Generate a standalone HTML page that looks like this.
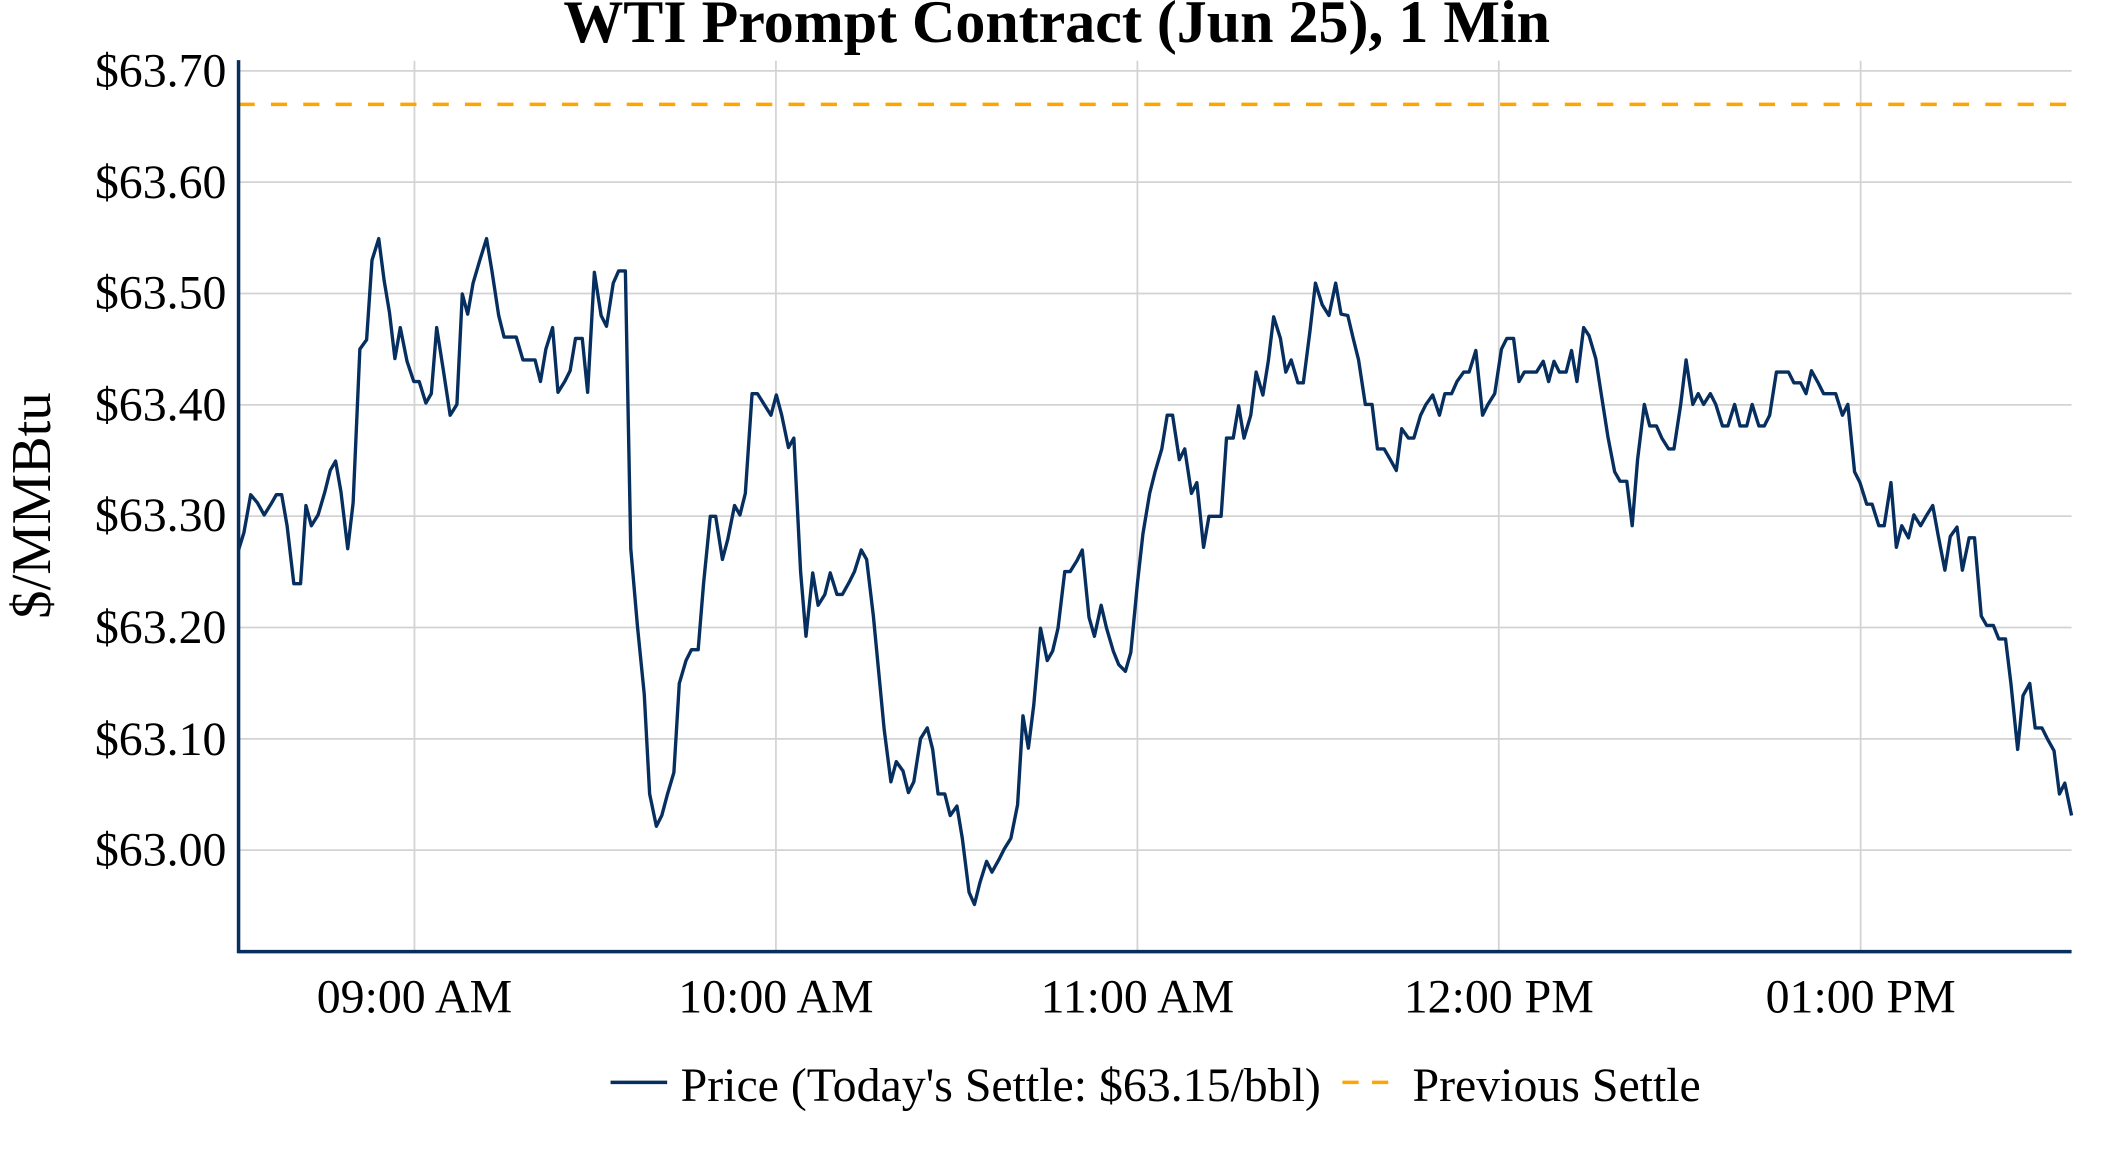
<!DOCTYPE html>
<html><head><meta charset="utf-8"><style>html,body{margin:0;padding:0;background:#fff}svg{display:block}</style></head>
<body>
<svg width="2112" height="1152" viewBox="0 0 1567 854.6" xmlns="http://www.w3.org/2000/svg" font-family="'Liberation Serif', serif">
<rect width="1567" height="854.6" fill="#fff"/>
<g stroke="#d3d3d3" stroke-width="1.3">
<line x1="177" x2="1537" y1="52.5" y2="52.5"/><line x1="177" x2="1537" y1="135.1" y2="135.1"/>
<line x1="177" x2="1537" y1="217.7" y2="217.7"/><line x1="177" x2="1537" y1="300.3" y2="300.3"/>
<line x1="177" x2="1537" y1="382.9" y2="382.9"/><line x1="177" x2="1537" y1="465.5" y2="465.5"/>
<line x1="177" x2="1537" y1="548.1" y2="548.1"/><line x1="177" x2="1537" y1="630.7" y2="630.7"/>
<line y1="45" y2="706" x1="307.5" x2="307.5"/><line y1="45" y2="706" x1="575.7" x2="575.7"/>
<line y1="45" y2="706" x1="843.9" x2="843.9"/><line y1="45" y2="706" x1="1112" x2="1112"/>
<line y1="45" y2="706" x1="1380.5" x2="1380.5"/>
</g>
<line x1="177" x2="1537" y1="77.4" y2="77.4" stroke="#ffa500" stroke-width="2.6" stroke-dasharray="12,12"/>
<polyline fill="none" stroke="#062e5e" stroke-width="2.5" stroke-linejoin="round" points="177,408 181,395 186,367 191,373 196,382 201,374 205,367 209,367 213,390 218,433 223,433 227,375 231,390 236,382 241,365 245,349 249,342 253,365 258,407 262,373 267,259 272,252 276,193 281,177 285,208 289,232 293,266 297,243 302,268 307,283 311,283 316,299 320,292 324,243 329,275 334,308 339,300 343,218 347,233 351,210 356,193 361,177 365,201 370,234 374,250 379,250 383,250 388,267 393,267 397,267 401,283 405,259 410,243 414,291 419,283 423,275 427,251 432,251 436,291 441,202 446,234 450,242 455,210 459,201 464,201 468,407 473,465 478,515 482,589 487,613 491,605 495,590 500,573 504,507 509,490 513,482 518,482 522,433 527,383 531,383 536,415 540,400 545,375 549,382 553,366 558,292 562,292 567,300 572,308 576,293 580,308 585,332 589,325 594,424 598,472 603,425 607,449 612,441 616,425 621,441 625,441 630,432 634,424 639,408 643,415 648,457 652,499 656,541 661,580 665,565 670,572 674,588 678,580 683,548 688,540 692,556 696,589 701,589 705,605 710,598 714,622 719,662 723,671 727,655 732,639 736,647 741,638 745,630 750,622 755,597 759,531 763,555 767,523 772,466 777,490 781,483 785,466 790,424 794,424 799,416 803,408 808,458 812,472 817,449 821,466 826,483 830,493 835,498 839,484 844,432 848,396 853,366 857,350 862,333 866,308 870,308 875,341 879,333 884,366 888,358 893,406 897,383 901,383 906,383 910,325 915,325 919,301 923,325 928,308 932,276 937,293 941,268 945,235 950,251 954,276 958,267 963,284 967,284 972,245 976,210 981,226 986,234 991,210 995,233 1000,234 1004,251 1008,267 1013,300 1018,300 1022,333 1027,333 1031,340 1036,349 1040,318 1045,325 1049,325 1054,308 1058,300 1063,293 1068,308 1072,292 1077,292 1081,283 1086,276 1090,276 1095,260 1100,308 1104,300 1109,292 1114,259 1118,251 1123,251 1127,283 1131,276 1136,276 1140,276 1145,268 1149,283 1153,268 1157,276 1162,276 1166,260 1170,283 1175,243 1179,249 1184,266 1188,292 1193,324 1198,350 1202,357 1207,357 1211,390 1215,341 1220,300 1224,316 1229,316 1233,325 1238,333 1242,333 1247,300 1251,267 1256,300 1260,292 1264,300 1269,292 1273,300 1278,316 1282,316 1287,300 1291,316 1296,316 1300,300 1305,316 1309,316 1313,308 1318,276 1322,276 1327,276 1331,284 1336,284 1340,292 1344,275 1349,284 1353,292 1358,292 1362,292 1367,308 1371,300 1376,350 1380,358 1385,374 1389,374 1394,390 1398,390 1403,358 1407,406 1411,390 1416,399 1420,382 1425,390 1429,383 1434,375 1438,397 1443,423 1447,398 1452,391 1456,423 1461,399 1465,399 1470,457 1474,464 1479,464 1483,474 1488,474 1492,507 1497,556 1501,516 1506,507 1510,540 1515,540 1519,548 1524,557 1528,589 1532,581 1537,605"/>
<line x1="177" x2="177" y1="44.5" y2="707" stroke="#062e5e" stroke-width="2.6"/>
<line x1="176" x2="1537" y1="706" y2="706" stroke="#062e5e" stroke-width="2.6"/>
<g font-size="35.5" fill="#000" text-anchor="end">
<text x="168" y="64">$63.70</text><text x="168" y="147">$63.60</text><text x="168" y="229">$63.50</text>
<text x="168" y="312">$63.40</text><text x="168" y="394">$63.30</text><text x="168" y="477">$63.20</text>
<text x="168" y="560">$63.10</text><text x="168" y="642">$63.00</text>
</g>
<g font-size="35.5" fill="#000" text-anchor="middle">
<text x="307.5" y="751">09:00 AM</text><text x="575.7" y="751">10:00 AM</text><text x="843.9" y="751">11:00 AM</text>
<text x="1112" y="751">12:00 PM</text><text x="1380.5" y="751">01:00 PM</text>
</g>
<text x="784" y="31" font-size="44.5" font-weight="bold" text-anchor="middle">WTI Prompt Contract (Jun 25), 1 Min</text>
<text transform="translate(37,375) rotate(-90)" font-size="42" text-anchor="middle">$/MMBtu</text>
<line x1="453" x2="495" y1="803" y2="803" stroke="#062e5e" stroke-width="2.6"/>
<text x="505" y="817" font-size="35.5">Price (Today's Settle: $63.15/bbl)</text>
<line x1="996" x2="1036" y1="803" y2="803" stroke="#ffa500" stroke-width="2.6" stroke-dasharray="12,10"/>
<text x="1048" y="817" font-size="35.5">Previous Settle</text>
</svg>
</body></html>
